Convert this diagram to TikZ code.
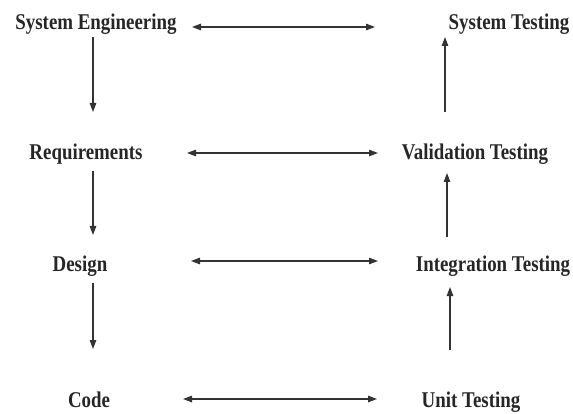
\documentclass[tikz,border=0pt]{standalone}
\usepackage{fontspec}
\setmainfont[FakeStretch=0.84]{Liberation Serif}
\usetikzlibrary{arrows.meta}
\tikzset{
  lbl/.style={anchor=base, inner sep=0pt, font=\fontsize{22.5}{27}\selectfont\bfseries, text=black!85},
  arr/.style={line width=1.2pt, draw=black!80, -{Triangle[length=9pt,width=6.5pt]}},
  dbl/.style={line width=1.2pt, draw=black!80, {Triangle[length=9pt,width=6.5pt]}-{Triangle[length=9pt,width=6.5pt]}}
}
\begin{document}
\begin{tikzpicture}[x=1pt,y=-1pt]
\useasboundingbox[fill=white] (0,0) rectangle (573,414);
% nodes
\node[lbl] (se) at (96,30) {System Engineering};
\node[lbl] (st) at (509,30) {System Testing};
\node[lbl] (rq) at (86,159.5) {Requirements};
\node[lbl] (vt) at (475,160) {Validation Testing};
\node[lbl] (dg) at (80,272) {Design};
\node[lbl] (it) at (493,272) {Integration Testing};
\node[lbl] (cd) at (89,407) {Code};
\node[lbl] (ut) at (471,407) {Unit Testing};
% connector ends
\coordinate (h1a) at (192,27);  \coordinate (h1b) at (375,27);
\coordinate (h2a) at (187,153); \coordinate (h2b) at (378,153);
\coordinate (h3a) at (191,261); \coordinate (h3b) at (378,261);
\coordinate (h4a) at (183,399); \coordinate (h4b) at (377,399);
\coordinate (l1a) at (93,37);   \coordinate (l1b) at (93,112);
\coordinate (l2a) at (93,171);  \coordinate (l2b) at (93,235);
\coordinate (l3a) at (93,283);  \coordinate (l3b) at (93,349);
\coordinate (r1a) at (445,112); \coordinate (r1b) at (445,37);
\coordinate (r2a) at (447,237); \coordinate (r2b) at (447,173);
\coordinate (r3a) at (450,350); \coordinate (r3b) at (450,287);
% connectors
\draw[dbl] (h1a) -- (h1b);
\draw[dbl] (h2a) -- (h2b);
\draw[dbl] (h3a) -- (h3b);
\draw[dbl] (h4a) -- (h4b);
\draw[arr] (l1a) -- (l1b);
\draw[arr] (l2a) -- (l2b);
\draw[arr] (l3a) -- (l3b);
\draw[arr] (r1a) -- (r1b);
\draw[arr] (r2a) -- (r2b);
\draw[arr] (r3a) -- (r3b);
\end{tikzpicture}
\end{document}
